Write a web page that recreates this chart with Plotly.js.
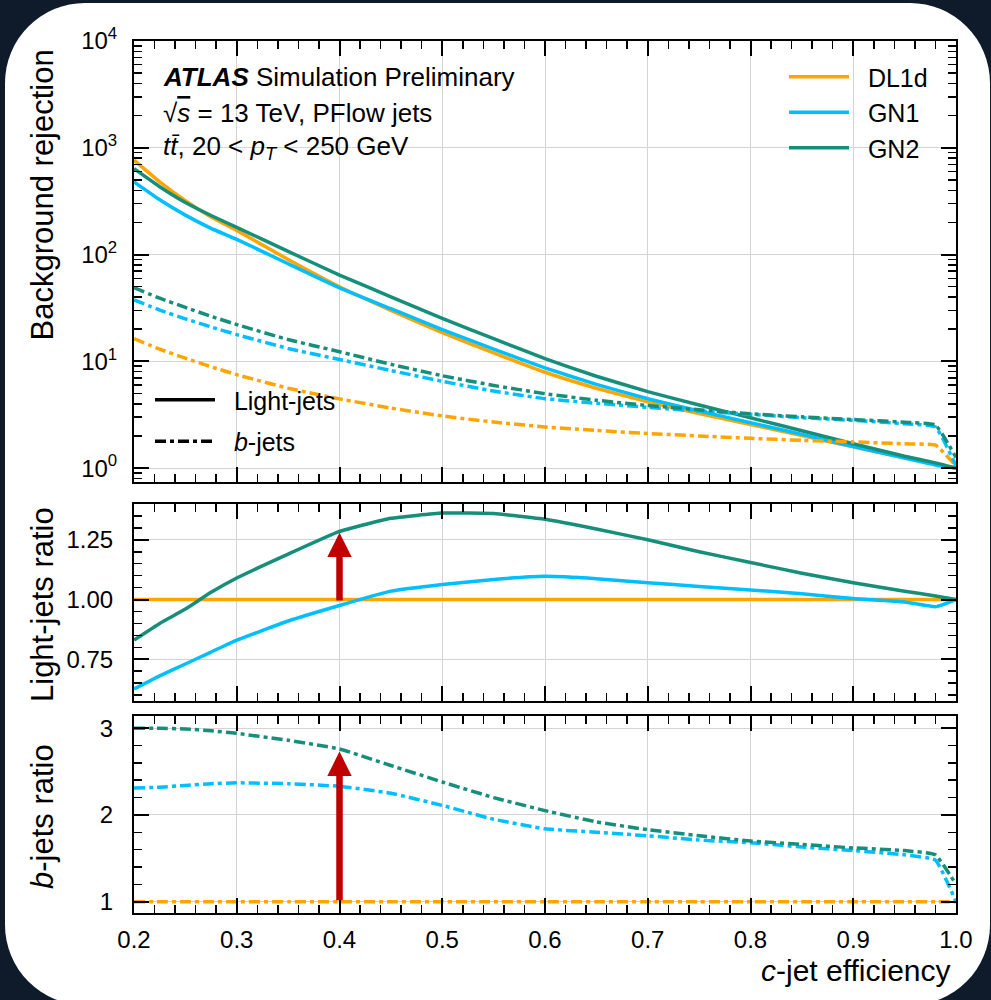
<!DOCTYPE html>
<html><head><meta charset="utf-8">
<script src="https://cdn.plot.ly/plotly-3.0.1.min.js"></script>
<style>
html,body{margin:0;padding:0;width:991px;height:1000px;overflow:hidden;background:#0f1b2a;}
#card{position:absolute;left:5px;top:3px;width:985px;height:1002px;background:#ffffff;border-radius:80px;}
#chart{position:absolute;left:0;top:0;width:991px;height:1000px;}
</style></head><body><div id="card"></div><div id="chart"></div>
<script>
// c-jet efficiency
const eff = [0.2,0.225,0.25,0.275,0.3,0.35,0.4,0.45,0.5,0.55,0.6,0.65,0.7,0.75,0.8,0.85,0.9,0.95,0.98,1.0];
// light-jet rejection
const lightDL1d = [767,480,320,225,168,90,50,30,18.6,12.0,7.9,5.6,4.17,3.25,2.56,2.02,1.58,1.25,1.1,1.0];
const lightGN1  = [479,326,234,176,139,82,48.8,31.1,19.8,13.0,8.67,6.09,4.46,3.43,2.66,2.07,1.59,1.24,1.07,1.0];
const lightGN2  = [637,432,307,232,180,107,64.3,40.2,25.3,16.3,10.6,7.25,5.21,3.9,2.96,2.24,1.69,1.29,1.12,1.0];
// b-jet rejection
const bDL1d = [16.3,13.0,10.7,8.9,7.5,5.6,4.45,3.65,3.08,2.7,2.43,2.25,2.11,2.0,1.9,1.82,1.76,1.69,1.64,1.05];
const bGN1  = [37.7,30.2,25.0,21.0,17.8,13.2,10.4,8.21,6.5,5.27,4.47,4.05,3.71,3.42,3.19,2.97,2.8,2.6,2.43,1.05];
const bGN2  = [48.9,39.0,32.0,26.4,22.1,16.0,12.3,9.38,7.33,5.94,4.98,4.32,3.86,3.52,3.23,3.02,2.85,2.69,2.53,1.26];
// light-jets ratio to DL1d
const lightRatioDL1d = [1,1,1,1,1,1,1,1,1,1,1,1,1,1,1,1,1,1,1,1];
const lightRatioGN1  = [0.625,0.68,0.73,0.78,0.83,0.91,0.975,1.035,1.063,1.084,1.097,1.087,1.07,1.055,1.04,1.024,1.004,0.99,0.97,1.0];
const lightRatioGN2  = [0.83,0.90,0.96,1.03,1.09,1.19,1.285,1.34,1.362,1.36,1.336,1.295,1.25,1.20,1.155,1.11,1.07,1.035,1.015,1.0];
// b-jets ratio to DL1d
const bRatioDL1d = [1,1,1,1,1,1,1,1,1,1,1,1,1,1,1,1,1,1,1,1];
const bRatioGN1  = [2.31,2.32,2.34,2.36,2.37,2.36,2.33,2.25,2.11,1.95,1.84,1.80,1.76,1.71,1.68,1.63,1.59,1.54,1.48,1.0];
const bRatioGN2  = [3.0,3.0,2.99,2.97,2.94,2.86,2.76,2.57,2.38,2.2,2.05,1.92,1.83,1.76,1.70,1.66,1.62,1.59,1.54,1.2];
// arrow markers (efficiency, start, end)
const arrowEff = 0.4;
const arrowLight = [0.99, 1.28];
const arrowB = [1.0, 2.73];

const models = ['DL1d','GN1','GN2'];
const colors = {DL1d:'#FFA500', GN1:'#00BFFF', GN2:'#168F7A'};
const light = {DL1d:lightDL1d, GN1:lightGN1, GN2:lightGN2};
const bjet = {DL1d:bDL1d, GN1:bGN1, GN2:bGN2};
const lr = {DL1d:lightRatioDL1d, GN1:lightRatioGN1, GN2:lightRatioGN2};
const br = {DL1d:bRatioDL1d, GN1:bRatioGN1, GN2:bRatioGN2};
const DASH = '11px,4px,4px,4px';
const LW = 3.5;
const FONT = 'Liberation Sans, Arial, Helvetica, sans-serif';
const SHAPE = {shape:'spline', smoothing:0.35};
const GAP = '\u00a0\u00a0';

const traces = [];
models.forEach(m => {
  traces.push({x:eff, y:light[m], xaxis:'x', yaxis:'y', mode:'lines', name:GAP+m, legend:'legend',
    line:Object.assign({color:colors[m], width:LW}, SHAPE), showlegend:true});
});
models.forEach(m => {
  traces.push({x:eff, y:bjet[m], xaxis:'x', yaxis:'y', mode:'lines', name:m+' b', showlegend:false,
    line:Object.assign({color:colors[m], width:LW, dash:DASH}, SHAPE)});
});
models.forEach(m => {
  traces.push({x:eff, y:lr[m], xaxis:'x2', yaxis:'y2', mode:'lines', name:m+' light ratio', showlegend:false,
    line:Object.assign({color:colors[m], width:LW}, SHAPE)});
});
models.forEach(m => {
  traces.push({x:eff, y:br[m], xaxis:'x3', yaxis:'y3', mode:'lines', name:m+' b ratio', showlegend:false,
    line:Object.assign({color:colors[m], width:LW, dash:DASH}, SHAPE)});
});
traces.push({x:[null], y:[null], xaxis:'x', yaxis:'y', mode:'lines', name:GAP+'Light-jets', legend:'legend2',
  legendgroup:'lj', line:{color:'black', width:LW}, showlegend:true});
traces.push({x:[null], y:[null], xaxis:'x', yaxis:'y', mode:'lines', name:GAP+'<i>b</i>-jets', legend:'legend2',
  legendgroup:'bj', line:{color:'black', width:LW, dash:DASH}, showlegend:true});

// minor log tick positions
const logMinor = [];
for (let d = -1; d < 4; d++) for (let k = 2; k <= 9; k++) logMinor.push(k * Math.pow(10, d));

const frame = {showline:true, linewidth:2, linecolor:'black', mirror:'allticks', ticks:'inside',
  ticklen:15, tickwidth:2, tickcolor:'black', showgrid:true, gridcolor:'#d4d4d4', gridwidth:1, zeroline:false,
  tickfont:{size:24, color:'black', family:FONT}};
const xbase = Object.assign({}, frame, {range:[0.2,1.0], tick0:0.2, dtick:0.1, tickformat:'.1f',
  ticklabelstandoff:4,
  minor:{ticks:'inside', ticklen:8, tickwidth:1.5, tickcolor:'black', dtick:0.02, tick0:0.2, showgrid:false}});

const L = 134, R = 35, T = 41, B = 87, W = 991, H = 1000;
const ph = H - T - B, pw = W - L - R;
const py = p => (H - B - p) / ph;   // pixel y -> paper
const px = p => (p - L) / pw;       // pixel x -> paper

const layout = {
  width:W, height:H, margin:{l:L, r:R, t:T, b:B},
  paper_bgcolor:'rgba(0,0,0,0)', plot_bgcolor:'#ffffff',
  font:{family:FONT, color:'black'},
  xaxis: Object.assign({}, xbase, {anchor:'y', showticklabels:false}),
  xaxis2: Object.assign({}, xbase, {anchor:'y2', matches:'x', showticklabels:false}),
  xaxis3: Object.assign({}, xbase, {anchor:'y3', matches:'x', showticklabels:true}),
  yaxis: Object.assign({}, frame, {type:'log', domain:[py(482), 1], range:[-0.13, 4],
    tickmode:'array', tickvals:[1,10,100,1000,10000], ticklabelstandoff:10,
    ticktext:['10<sup>0</sup>','10<sup>1</sup>','10<sup>2</sup>','10<sup>3</sup>','10<sup>4</sup>'],
    minor:{tickmode:'array', tickvals:logMinor, ticks:'inside', ticklen:8, tickwidth:1.5, tickcolor:'black', showgrid:false}}),
  yaxis2: Object.assign({}, frame, {domain:[py(701), py(504)], range:[0.575, 1.40],
    tickmode:'array', tickvals:[0.75,1.0,1.25], tickformat:'.2f', ticklabelstandoff:14,
    minor:{ticks:'inside', ticklen:8, tickwidth:1.5, tickcolor:'black', dtick:0.05, tick0:0.5, showgrid:false}}),
  yaxis3: Object.assign({}, frame, {domain:[0, py(716)], range:[0.87, 3.14],
    tickmode:'array', tickvals:[1,2,3], ticklabelstandoff:14,
    minor:{ticks:'inside', ticklen:8, tickwidth:1.5, tickcolor:'black', dtick:0.2, tick0:0, showgrid:false}}),
  showlegend:true,
  legend:{x:px(784), xanchor:'left', y:py(54), yanchor:'top', font:{size:25, family:FONT},
    bgcolor:'rgba(0,0,0,0)', traceorder:'normal', itemwidth:60},
  legend2:{x:px(150), xanchor:'left', y:py(377), yanchor:'top', font:{size:25, family:FONT},
    bgcolor:'rgba(0,0,0,0)', traceorder:'grouped', tracegroupgap:6, itemwidth:60},
  annotations:[
    {xref:'paper', yref:'paper', x:px(161), y:py(77), xanchor:'left', yanchor:'middle', showarrow:false,
      text:'<b><i>ATLAS</i></b> Simulation Preliminary', font:{size:26}},
    {xref:'paper', yref:'paper', x:px(161), y:py(113), xanchor:'left', yanchor:'middle', showarrow:false,
      text:'√<span style="text-decoration:overline"><i>s</i></span> = 13 TeV, PFlow jets', font:{size:26}},
    {xref:'paper', yref:'paper', x:px(161), y:py(148), xanchor:'left', yanchor:'middle', showarrow:false,
      text:'<i>t</i><i>t\u0304</i>, 20 < <i>p</i><sub><i>T</i></sub> < 250 GeV', font:{size:26}},
    {xref:'paper', yref:'paper', x:px(42), y:py(48), xanchor:'center', yanchor:'top', textangle:-90, showarrow:false,
      text:'Background rejection', font:{size:31}},
    {xref:'paper', yref:'paper', x:px(42), y:py(605), xanchor:'center', yanchor:'middle', textangle:-90, showarrow:false,
      text:'Light-jets ratio', font:{size:31}},
    {xref:'paper', yref:'paper', x:px(42), y:py(817), xanchor:'center', yanchor:'middle', textangle:-90, showarrow:false,
      text:'<i>b</i>-jets ratio', font:{size:31}},
    {xref:'paper', yref:'paper', x:px(953), y:py(970), xanchor:'right', yanchor:'middle', showarrow:false,
      text:'<i>c</i>-jet efficiency', font:{size:30}},
    {xref:'x2', yref:'y2', axref:'x2', ayref:'y2', x:arrowEff, y:arrowLight[1], ax:arrowEff, ay:arrowLight[0],
      text:'', showarrow:true, arrowhead:2, arrowsize:0.75, arrowwidth:6.5, arrowcolor:'#C00000', standoff:0},
    {xref:'x3', yref:'y3', axref:'x3', ayref:'y3', x:arrowEff, y:arrowB[1], ax:arrowEff, ay:arrowB[0],
      text:'', showarrow:true, arrowhead:2, arrowsize:0.75, arrowwidth:6.5, arrowcolor:'#C00000', standoff:0}
  ]
};
Plotly.newPlot('chart', traces, layout, {displayModeBar:false, staticPlot:true});
</script></body></html>
